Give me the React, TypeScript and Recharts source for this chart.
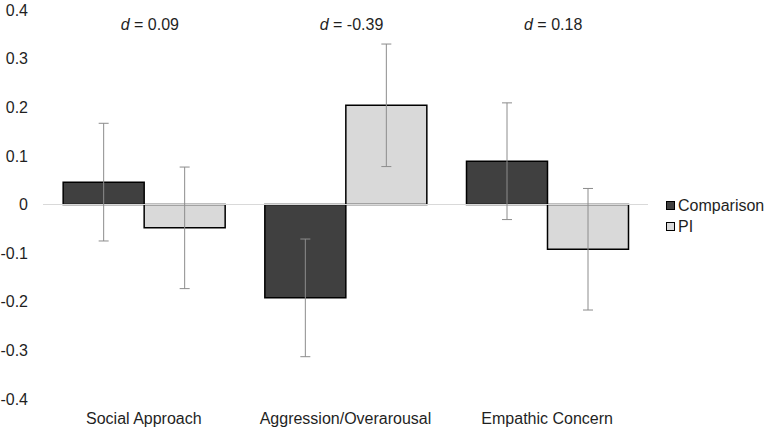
import { BarChart, Bar, XAxis, YAxis, ErrorBar, ReferenceLine, Legend } from 'recharts'

const categories = ['Social Approach', 'Aggression/Overarousal', 'Empathic Concern']
const effectSizes = ['0.09', '-0.39', '0.18']
const comparison = [0.046, -0.192, 0.089]
const comparisonErr = [0.121, 0.121, 0.12]
const pi = [-0.048, 0.204, -0.092]
const piErr = [0.125, 0.126, 0.125]
const yTicks = [-0.4, -0.3, -0.2, -0.1, 0, 0.1, 0.2, 0.3, 0.4]

const FONT = '"Liberation Sans", Arial, sans-serif'
const TEXT = '#1f1f1f'

const chartData = categories.map((name, i) => ({
  name,
  effect: effectSizes[i],
  comparison: comparison[i],
  comparisonErr: comparisonErr[i],
  pi: pi[i],
  piErr: piErr[i]
}))

function EffectTick({ x, y, payload }: any) {
  return (
    <text x={x + 6} y={y} dy="0.71em" textAnchor="middle" fontSize={16} fill={TEXT} fontFamily={FONT}>
      <tspan fontStyle="italic">d</tspan>
      <tspan> = {payload.value}</tspan>
    </text>
  )
}

function LegendBox({ payload }: any) {
  return (
    <div style={{ fontFamily: FONT, fontSize: 16, color: TEXT }}>
      {(payload || []).map((item: any) => (
        <div key={item.value} style={{ display: 'flex', alignItems: 'center', height: 21 }}>
          <span
            style={{
              display: 'inline-block',
              width: 7,
              height: 7,
              background: item.color,
              border: '1px solid #000',
              marginRight: 3
            }}
          />
          <span>{item.value}</span>
        </div>
      ))}
    </div>
  )
}

export default function App() {
  return (
    <div style={{ position: 'absolute', left: 0, top: 0, width: 766, height: 430, background: '#fff', fontFamily: FONT }}>
      <BarChart
        width={766}
        height={430}
        data={chartData}
        margin={{ top: 10, right: 118, bottom: 0, left: 0 }}
        barCategoryGap="10%"
        barGap={0}
      >
        <XAxis
          dataKey="name"
          height={31}
          tickLine={false}
          axisLine={false}
          tickSize={0}
          tickMargin={14}
          tick={{ fontSize: 16, fill: TEXT, fontFamily: FONT }}
        />
        <XAxis
          xAxisId="top"
          orientation="top"
          dataKey="effect"
          mirror
          tickLine={false}
          axisLine={false}
          tickSize={0}
          tickMargin={9}
          tick={<EffectTick />}
        />
        <YAxis
          domain={[-0.4, 0.4]}
          ticks={yTicks}
          width={43}
          tickLine={false}
          axisLine={false}
          tickSize={0}
          tickMargin={15}
          interval={0}
          tickFormatter={(v: number) => (Math.abs(v) < 1e-9 ? '0' : String(Math.round(v * 10) / 10))}
          tick={{ fontSize: 16, fill: TEXT, fontFamily: FONT }}
        />
        <ReferenceLine y={0} stroke="#d9d9d9" strokeWidth={1} />
        <Legend
          layout="vertical"
          align="center"
          verticalAlign="middle"
          content={<LegendBox />}
          wrapperStyle={{ position: 'absolute', left: 666, top: 195, width: 100 }}
        />
        <Bar dataKey="comparison" name="Comparison" fill="#404040" stroke="#000" strokeWidth={1.5} isAnimationActive={false}>
          <ErrorBar dataKey="comparisonErr" width={5} stroke="#8c8c8c" strokeWidth={1} direction="y" />
        </Bar>
        <Bar dataKey="pi" name="PI" fill="#d9d9d9" stroke="#000" strokeWidth={1.5} isAnimationActive={false}>
          <ErrorBar dataKey="piErr" width={5} stroke="#8c8c8c" strokeWidth={1} direction="y" />
        </Bar>
      </BarChart>
    </div>
  )
}
